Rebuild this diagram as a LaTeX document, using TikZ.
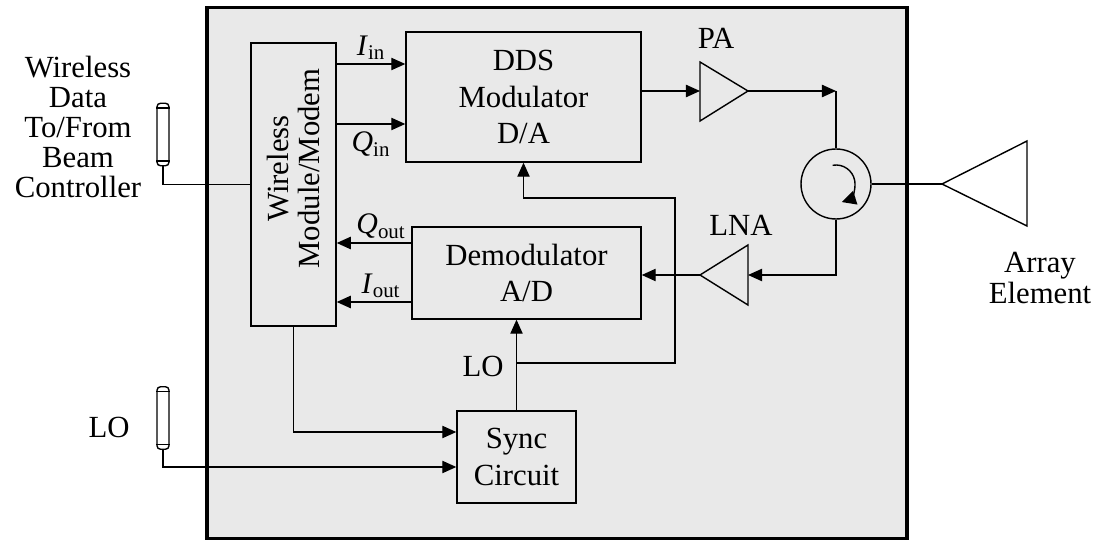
\documentclass[tikz,border=0pt]{standalone}
\usepackage{fontspec}
\setmainfont{Liberation Serif}
\usetikzlibrary{arrows.meta,positioning}

\tikzset{
  blk/.style={draw, inner sep=0pt, align=center, font=\fontsize{17.5}{21}\selectfont},
  txt/.style={align=center, inner sep=0pt, font=\fontsize{17.5}{18}\selectfont},
  sub/.style={inner sep=2pt, font=\fontsize{17}{18}\selectfont},
  plug/.style={draw, fill=white, rounded corners=2pt, minimum width=0.24cm, minimum height=1.25cm, inner sep=0pt},
}

\begin{document}
\begin{tikzpicture}[x=0.02cm, y=-0.02cm, line width=0.8pt, >={Triangle[length=8pt,width=7pt]}]
\useasboundingbox (0,0) rectangle (1101,540);
% housing
\draw[fill=gray!17, line width=1.8pt] (207,7.5) rectangle (907,539);

% blocks
\node[blk, minimum width=1.7cm, minimum height=5.66cm] (wm) at (293.5,184.5) {};
\node[txt, rotate=90] at ([yshift=0.32cm]wm.center) {Wireless\\Module/Modem};
\node[blk, minimum width=4.7cm, minimum height=2.6cm] (dds) at (523.5,97) {DDS\\Modulator\\D/A};
\node[blk, minimum width=4.58cm, minimum height=1.84cm] (dem) at (526.5,273) {Demodulator\\A/D};
\node[blk, minimum width=2.38cm, minimum height=1.84cm] (sync) at (516.5,457) {Sync\\Circuit};
\node[draw, circle, minimum size=1.4cm, inner sep=0pt] (circ) at (836,184) {};
\draw[-{Triangle[length=8pt,width=8pt]}] ([shift={(-100:19)}]circ.center) arc[start angle=-100, end angle=72, radius=19];

% amplifiers and antenna
\coordinate (pain) at (700,91);
\coordinate (paout) at (748,91);
\draw (700,62) -- (paout) -- (700,121) -- cycle;
\node[txt] at (716,38) {PA};
\coordinate (lnain) at (748,275);
\coordinate (lnaout) at (700,275);
\draw (748,245) -- (lnaout) -- (748,305) -- cycle;
\node[txt] at (741,225) {LNA};
\coordinate (ant) at (942,184);
\draw (ant) -- (1027,141) -- (1027,226) -- cycle;
\node[txt] at (1040,278) {Array\\Element};

% RF path
\draw[->] (dds.east |- pain) -- (pain);
\draw[->] (paout) -- (circ.north |- paout);
\draw (circ.north |- paout) -- (circ.north);
\draw (circ.east) -- (ant);
\draw[->] (circ.south) |- (lnain);
\draw[->] (lnaout) -- (dem.east |- lnaout);

% I/Q lines
\coordinate (iin) at ([yshift=0.66cm]dds.west);
\coordinate (qin) at ([yshift=-0.54cm]dds.west);
\coordinate (qout) at ([yshift=0.6cm]dem.west);
\coordinate (iout) at ([yshift=-0.58cm]dem.west);
\draw[->] (wm.east |- iin) -- node[sub, above] {\textit{I}\textsubscript{in}} (iin);
\draw[->] (wm.east |- qin) -- node[sub, below, yshift=-2pt] {\textit{Q}\textsubscript{in}} (qin);
\draw[->] (qout) -- node[sub, above, xshift=4pt] {\textit{Q}\textsubscript{out}} (wm.east |- qout);
\draw[->] (iout) -- node[sub, above, xshift=4pt] {\textit{I}\textsubscript{out}} (wm.east |- iout);

% LO distribution
\coordinate (lo1) at (675,363);
\coordinate (lo2) at (675,198);
\draw[->] (sync.north) -- (sync.north |- dem.south);
\draw[->] (sync.north |- lo1) -- (lo1) -- (lo2) -- (dds.south |- lo2) -- (dds.south);
\node[txt] at (483,366) {LO};

% external ports
\node[plug] (dport) at (163,134.5) {};
\node[plug] (loport) at (163,418) {};
\foreach \p in {dport,loport} {
  \draw ([yshift=-3pt]\p.north west) -- ([yshift=-3pt]\p.north east);
  \draw ([yshift=3pt]\p.south west) -- ([yshift=3pt]\p.south east);
}
\node[txt, font=\fontsize{17.5}{17}\selectfont] at (78,127) {Wireless\\Data\\To/From\\Beam\\Controller};
\node[txt] at (109,427) {LO};
\draw (dport.south) |- (wm.west);
\draw[->] (loport.south) |- ([yshift=-0.2cm]sync.west);
\draw[->] (wm.south) |- ([yshift=0.5cm]sync.west);
\end{tikzpicture}
\end{document}
